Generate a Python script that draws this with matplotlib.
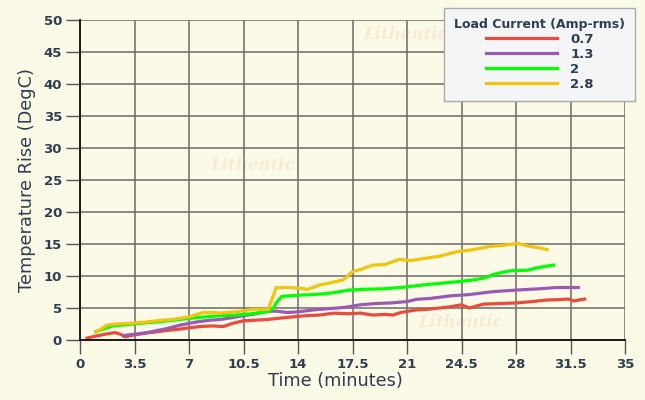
import matplotlib
matplotlib.use("Agg")
import matplotlib.pyplot as plt

red_t = [0.45, 1.0, 1.6, 2.25, 2.6, 2.9, 3.5, 4.3, 5.0, 5.6, 6.4, 7.0, 7.7, 8.5, 9.2, 9.8, 10.5, 11.3, 12.0, 12.8, 13.6, 14.5, 15.4, 16.3, 17.2, 18.0, 18.8, 19.6, 20.1, 20.6, 21.6, 22.3, 23.1, 23.8, 24.5, 25.0, 25.9, 27.0, 28.1, 29.0, 30.0, 30.7, 31.35, 31.7, 32.4]
red_v = [0.3, 0.6, 0.9, 1.15, 0.9, 0.5, 0.8, 1.1, 1.3, 1.5, 1.7, 1.9, 2.1, 2.2, 2.1, 2.6, 3.0, 3.1, 3.2, 3.4, 3.6, 3.8, 3.9, 4.2, 4.1, 4.2, 3.9, 4.0, 3.9, 4.3, 4.7, 4.8, 5.0, 5.2, 5.5, 5.0, 5.6, 5.7, 5.8, 6.0, 6.25, 6.3, 6.4, 6.1, 6.4]

purple_t = [2.8, 3.5, 4.3, 4.9, 5.6, 6.4, 7.0, 7.7, 8.4, 9.0, 9.8, 10.5, 11.3, 12.0, 12.6, 13.3, 14.0, 15.0, 16.0, 17.0, 18.0, 19.0, 20.0, 21.0, 21.6, 22.5, 23.8, 25.0, 26.5, 28.0, 29.5, 30.6, 32.0]
purple_v = [0.7, 0.9, 1.15, 1.45, 1.8, 2.3, 2.6, 2.9, 3.1, 3.2, 3.5, 3.8, 4.1, 4.5, 4.5, 4.3, 4.4, 4.7, 4.9, 5.1, 5.5, 5.7, 5.8, 6.0, 6.35, 6.5, 6.9, 7.1, 7.55, 7.8, 8.0, 8.2, 8.2]

green_t = [1.0, 1.5, 2.1, 3.0, 4.3, 5.3, 6.4, 7.5, 9.0, 10.0, 11.0, 12.0, 12.4, 12.6, 12.95, 14.0, 15.0, 16.0, 17.3, 18.0, 19.5, 21.0, 22.0, 23.1, 24.2, 25.3, 26.0, 26.5, 27.0, 27.6, 28.7, 29.5, 30.4]
green_v = [1.3, 1.7, 2.2, 2.4, 2.7, 2.9, 3.2, 3.5, 3.8, 3.9, 4.1, 4.4, 4.9, 5.8, 6.8, 7.0, 7.1, 7.3, 7.8, 7.9, 8.0, 8.3, 8.6, 8.85, 9.1, 9.4, 9.7, 10.2, 10.5, 10.8, 10.9, 11.35, 11.7]

yellow_t = [1.0, 1.4, 1.7, 2.3, 3.2, 4.2, 5.35, 6.2, 7.06, 7.9, 8.6, 9.0, 10.0, 11.1, 12.1, 12.6, 13.3, 14.1, 14.6, 15.4, 16.2, 16.9, 17.5, 18.0, 18.8, 19.6, 20.5, 21.2, 22.0, 23.1, 24.2, 25.2, 26.3, 27.2, 28.1, 28.9, 29.5, 30.0]
yellow_v = [1.25, 1.8, 2.3, 2.5, 2.6, 2.8, 3.1, 3.3, 3.65, 4.3, 4.3, 4.2, 4.4, 4.8, 4.8, 8.2, 8.2, 8.1, 7.9, 8.6, 9.0, 9.4, 10.7, 11.0, 11.7, 11.8, 12.6, 12.4, 12.7, 13.1, 13.8, 14.1, 14.6, 14.8, 15.1, 14.6, 14.4, 14.1]

series_labels = ["0.7", "1.3", "2", "2.8"]
series_colors = ["#e74c3c", "#9b59b6", "#00ff00", "#f1c40f"]
x_ticks = [0, 3.5, 7, 10.5, 14, 17.5, 21, 24.5, 28, 31.5, 35]
x_tick_labels = ["0", "3.5", "7", "10.5", "14", "17.5", "21", "24.5", "28", "31.5", "35"]
y_ticks = [0, 5, 10, 15, 20, 25, 30, 35, 40, 45, 50]

bg = "#fbfae6"
txt = "#2c3e50"

fig = plt.figure(figsize=(6.45, 4.0), dpi=100, facecolor=bg)
ax = fig.add_axes([80/645, 60/400, 545/645, 320/400])
ax.set_facecolor(bg)

# watermarks
for (wx, wy) in [(0.52, 0.94), (0.24, 0.53), (0.62, 0.04)]:
    ax.text(wx, wy, "Lithentic", transform=ax.transAxes, fontsize=12, fontstyle="italic",
            fontweight="bold", family="DejaVu Serif", color="#f5d9c4", alpha=0.5, zorder=0.5)

data = [(red_t, red_v), (purple_t, purple_v), (green_t, green_v), (yellow_t, yellow_v)]
for (t, v), lab, c in zip(data, series_labels, series_colors):
    ax.plot(t, v, color=c, lw=2.3, label=lab, zorder=3)

ax.set_xlim(0, 35)
ax.set_ylim(0, 50)
ax.set_xticks(x_ticks)
ax.set_xticklabels(x_tick_labels)
ax.set_yticks(y_ticks)
ax.grid(True, color="#6b6b6b", lw=1.1, zorder=1)
ax.set_axisbelow(True)
for s in ["top", "right"]:
    ax.spines[s].set_visible(False)
for s in ["left", "bottom"]:
    ax.spines[s].set_color("#1a1a1a")
    ax.spines[s].set_linewidth(1.4)
    ax.spines[s].set_zorder(4)
ax.tick_params(axis="both", length=10, width=1, color="#555555", labelcolor=txt,
               labelsize=9.5, pad=3)
for lbl in ax.get_xticklabels() + ax.get_yticklabels():
    lbl.set_fontweight("bold")

ax.set_xlabel("Time (minutes)", fontsize=12.8, color=txt, labelpad=3)
ax.xaxis.set_label_coords((335 - 80) / 545, -0.1)
ax.set_ylabel("Temperature Rise (DegC)", fontsize=12.8, color=txt, labelpad=5)

leg = ax.legend(title="Load Current (Amp-rms)", loc="upper right", bbox_to_anchor=(635/645, 392/400),
                bbox_transform=fig.transFigure, frameon=True, fancybox=False, borderaxespad=0,
                handlelength=5.4, handletextpad=1.0, labelspacing=0.15, borderpad=0.75,
                prop={"weight": "bold", "size": 9.5},
                title_fontproperties={"weight": "bold", "size": 9})
leg.get_frame().set_facecolor("#f4f5f7")
leg.get_frame().set_edgecolor("#aaaaaa")
leg.get_frame().set_alpha(1)
for t in leg.get_texts():
    t.set_color(txt)
leg.get_title().set_color(txt)
leg.set_zorder(10)

fig.savefig("out.png", dpi=100, facecolor=bg)
